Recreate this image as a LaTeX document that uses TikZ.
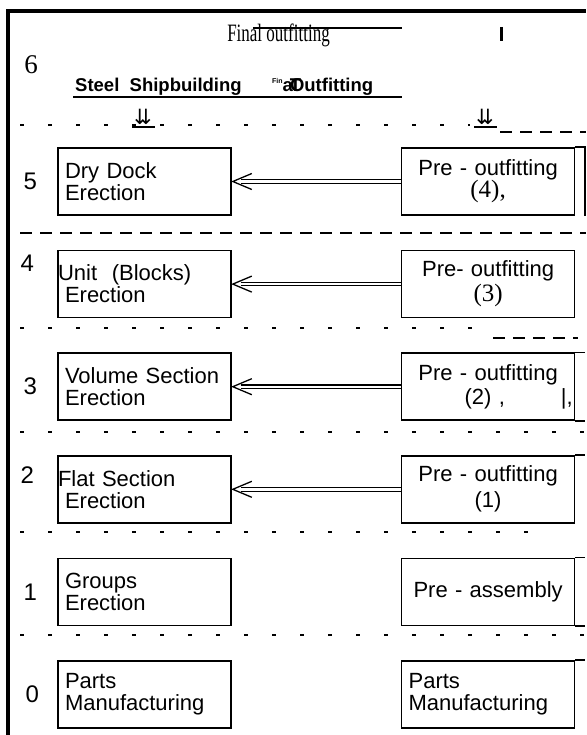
\documentclass[tikz,border=0pt]{standalone}
\usepackage{graphicx}
\usepackage{fontspec}
\setmainfont{Liberation Serif}
\setsansfont{Liberation Sans}
\newfontfamily\arrowfont{DejaVu Sans}
\usetikzlibrary{arrows.meta, positioning}

\begin{document}
\begin{tikzpicture}[
    x=1pt, y=-1pt,
    % ── Node styles ──────────────────────────────────────────────────────
    stagebox/.style={
        draw, line width=1.6pt, minimum width=173pt, minimum height=67pt,
        text width=159pt, inner xsep=7pt, inner ysep=3pt,
        font=\fontsize{22}{22}\selectfont\sffamily
    },
    buildstage/.style={stagebox, align=left},
    outfitstage/.style={stagebox, align=center},
    levelnum/.style={font=\fontsize{24}{24}\selectfont\sffamily, inner sep=0pt},
    headtext/.style={font=\fontsize{18.5}{20}\selectfont\sffamily\bfseries, inner sep=0pt},
    droparrow/.style={font=\fontsize{21}{21}\selectfont\arrowfont, inner sep=0pt},
    % ── Line styles ──────────────────────────────────────────────────────
    frame/.style={line width=3.5pt},
    rule/.style={line width=2.6pt},
    boxline/.style={line width=1.6pt},
    shortdash/.style={line width=1.6pt, dash pattern=on 4pt off 24pt},
    longdash/.style={line width=1.6pt, dash pattern=on 12pt off 8pt},
    feeds/.style={double, double distance=2.4pt, line width=1.1pt},
    feedhead/.style={line width=1.3pt, line join=miter}
]
\useasboundingbox (0,0) rectangle (586,735);

% Frame and heading
\draw[frame] (8,735) -- (8,11) -- (586,11);
\node[font=\fontsize{27}{27}\selectfont] (six) at (31,65) {6};
\node[anchor=base, inner sep=0pt] (finaltop) at (278.5,42)
    {\scalebox{0.68}[1]{\fontsize{25}{25}\selectfont Final outfitting}};
\draw[rule] (253,28) -- (402,28);
\draw[line width=3pt] (501,27) -- (501,41);
\node[headtext, anchor=base west] (steelhead) at (75,92) {Steel\ \ Shipbuilding};
\node[headtext, anchor=base west] (finalhead) at (272,92)
    {\raisebox{8pt}{\fontsize{7}{7}\selectfont Fin}a\kern-3pt\rlap{T}Outfitting};
\draw[rule] (73,97) -- (402,97);

% Level separators
\draw[shortdash] (20,125) -- (470,125);
\draw[longdash] (500,132) -- (586,132);
\node[droparrow] (drop1) at (143,117) {⇊};
\node[droparrow] (drop2) at (485,117) {⇊};
\draw[boxline] (132,127) -- (155,127);
\draw[boxline] (474,127) -- (497,127);
\draw[longdash] (20,233) -- (586,233);
\draw[shortdash] (20,328) -- (472,328);
\draw[longdash] (493,338) -- (578,338);
\draw[shortdash] (20,432) -- (586,432);
\draw[shortdash] (20,532) -- (550,532);
\draw[shortdash] (20,635) -- (586,635);

% Steel shipbuilding stages
\node[buildstage] (dock) at (144.5,181.5) {Dry Dock\\Erection};
\node[buildstage, below=34pt of dock] (unit) {\hspace*{-7pt}Unit\ \ (Blocks)\\Erection};
\node[buildstage, below=34pt of unit] (volume) {\mbox{Volume Section}\\Erection};
\node[buildstage, below=34pt of volume] (flat) {\hspace*{-7pt}Flat Section\\Erection};
\node[buildstage, below=34pt of flat] (groups) {Groups\\Erection};
\node[buildstage, below=34pt of groups] (partsL) {Parts\\Manufacturing};

% Outfitting stages
\node[outfitstage, right=169pt of dock] (pre4)
    {Pre - outfitting\\{\rmfamily\fontsize{25}{25}\selectfont(4),}};
\node[outfitstage, right=169pt of unit] (pre3)
    {Pre- outfitting\\[3pt]{\rmfamily\fontsize{25}{25}\selectfont(3)}};
\node[outfitstage, right=169pt of volume] (pre2)
    {Pre - outfitting\\[2pt]\makebox[159pt][l]{\hspace{56pt}(2) ,\hspace{56pt}|,}};
\node[outfitstage, right=169pt of flat] (pre1) {Pre - outfitting\\[4pt](1)};
\node[outfitstage, right=169pt of groups] (preasm) {Pre - assembly};
\node[buildstage, right=169pt of partsL] (partsR) {Parts\\Manufacturing};

% Level numbers
\node[levelnum, left=20pt of dock] (lv5) {5};
\node[levelnum, anchor=east] (lv4) at ([xshift=-23pt, yshift=21pt]unit.west) {4};
\node[levelnum, left=20pt of volume] (lv3) {3};
\node[levelnum, anchor=east] (lv2) at ([xshift=-23pt, yshift=14pt]flat.west) {2};
\node[levelnum, left=20pt of groups] (lv1) {1};
\node[levelnum, left=18pt of partsL] (lv0) {0};

% Outfitting feeds into erection
\foreach \src/\dst in {pre4/dock, pre3/unit, pre2/volume, pre1/flat} {
    \draw[feeds] (\src.west) -- ([xshift=9pt]\dst.east);
    \draw[feedhead] ([xshift=20pt, yshift=8pt]\dst.east) -- ([xshift=1pt]\dst.east)
        -- ([xshift=20pt, yshift=-8pt]\dst.east);
}

% Frame lines running to the edge
\coordinate (edge) at (585,0);
\draw[boxline] (pre4.north east) -- (pre4.north east -| edge) -- (pre4.south east -| edge);
\draw[boxline] (pre2.north east) -- (pre2.north east -| edge);
\draw[boxline] (pre2.south east) -- (pre2.south east -| edge);
\draw[boxline] (pre1.north east) -- (pre1.north east -| edge);
\draw[boxline] (preasm.north east) -- (preasm.north east -| edge);
\draw[boxline] (preasm.south east) -- (preasm.south east -| edge);
\draw[boxline] (partsR.north east) -- (partsR.north east -| edge);

\end{tikzpicture}
\end{document}
